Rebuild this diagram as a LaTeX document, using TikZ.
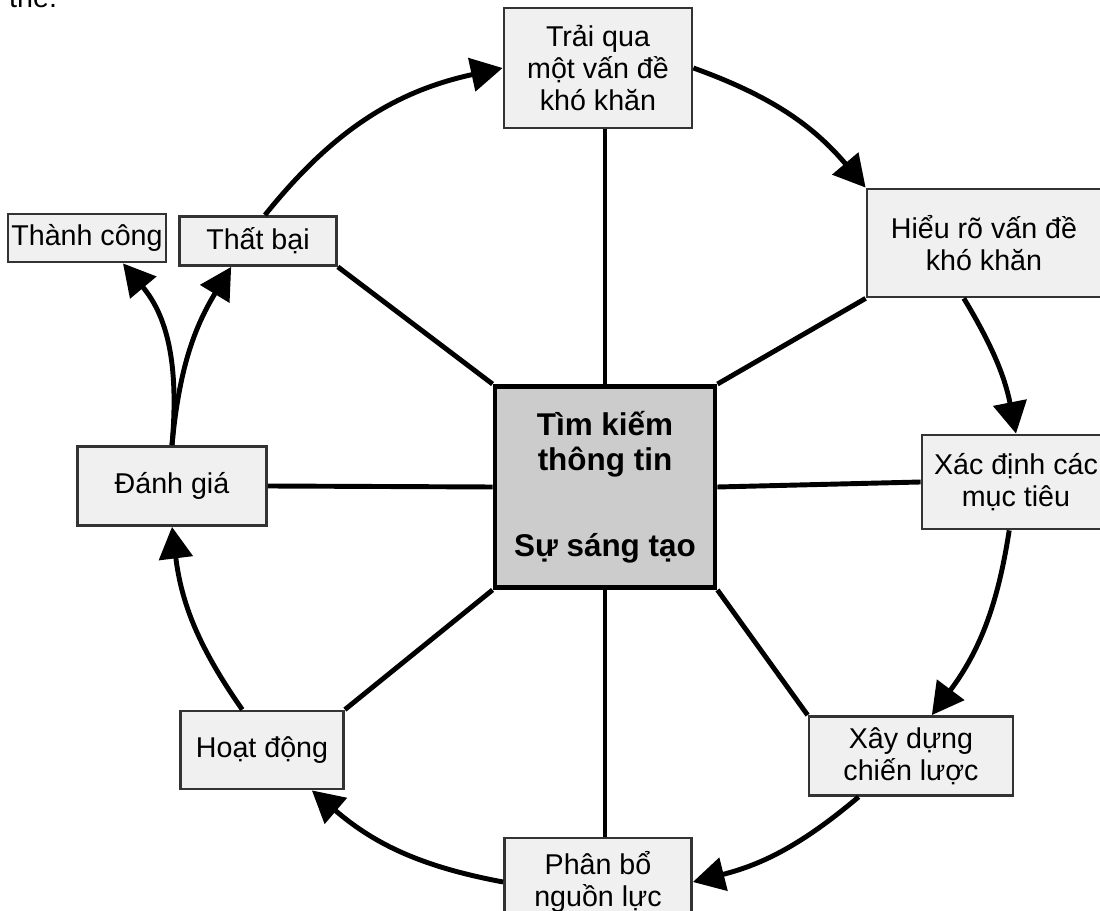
\documentclass[tikz,border=0pt]{standalone}
\usepackage{fontspec}
\setmainfont{Liberation Sans}
\usetikzlibrary{arrows.meta}

\begin{document}
\begin{tikzpicture}[
  x=0.02cm, y=-0.02cm,
  stage/.style={draw=black!80, fill=black!6, line width=1.6pt,
                align=center, inner sep=0pt,
                font=\fontsize{16.3}{18.4}\selectfont},
  core/.style={draw, fill=black!20, line width=2.8pt,
               align=center, inner sep=0pt,
               font=\fontsize{17.9}{19.8}\selectfont\bfseries},
  spoke/.style={-, line width=2.8pt},
  flow/.style={-{Triangle[length=18pt, width=19pt]}, line width=2.8pt},
]
\useasboundingbox (0,0) rectangle (1100,911);

\node[anchor=base west, font=\fontsize{16.3}{18.4}\selectfont] (prev) at (3,8) {the.};

\node[core, minimum width=4.40cm, minimum height=4.02cm] (core) at (605,487) {
  Tìm kiếm\\thông tin\\[29pt]Sự sáng tạo
};
\node[stage, minimum width=3.76cm, minimum height=2.40cm] (trai) at (598,68)
  {Trải qua\\một vấn đề\\khó khăn};
\node[stage, minimum width=4.68cm, minimum height=2.16cm] (hieu) at (984,243)
  {Hiểu rõ vấn đề\\khó khăn};
\node[stage, minimum width=3.76cm, minimum height=1.88cm] (xac) at (1016,482)
  {Xác định các\\mục tiêu};
\node[stage, minimum width=4.08cm, minimum height=1.58cm] (xay) at (911,756)
  {Xây dựng\\chiến lược};
\node[stage, minimum width=3.74cm, minimum height=1.76cm] (phan) at (598,882)
  {Phân bổ\\nguồn lực};
\node[stage, minimum width=3.26cm, minimum height=1.56cm] (hoat) at (262,750)
  {Hoạt động};
\node[stage, minimum width=3.78cm, minimum height=1.58cm] (danh) at (172,486)
  {Đánh giá};
\node[stage, minimum width=3.14cm, minimum height=0.98cm] (that) at (258,241)
  {Thất bại};
\node[stage, minimum width=3.16cm, minimum height=0.96cm] (thanh) at (87,238)
  {Thành công};

%% spokes
\draw[spoke] (core.north)      -- (core.north |- trai.south);
\draw[spoke] (core.north east) -- (hieu.south west);
\draw[spoke] (core.east)       -- (xac.west);
\draw[spoke] (core.south east) -- (xay.north west);
\draw[spoke] (core.south)      -- (core.south |- phan.north);
\draw[spoke] (core.south west) -- (hoat.north east);
\draw[spoke] (core.west)       -- (danh.east);
\draw[spoke] (core.north west) -- (that.south east);

%% cycle
\draw[flow] (that.75)  to[bend left=19.5] (trai.west);
\draw[flow] (trai.east) to[bend left=15]  (hieu.north west);
\draw[flow] (hieu.250)  to[bend left=10]  (xac.north);
\draw[flow] (xac.262)   to[bend left=14]  (xay.63);
\draw[flow] (xay.218)   to[bend left=13]  (phan.east);
\draw[flow] (phan.west) to[bend left=15]  (hoat.321);
\draw[flow] (hoat.116)  to[bend left=14]  (danh.south);
\draw[flow] (danh.north) to[bend left=13] (that.224);
\draw[flow] (danh.north) to[out=85, in=-50] ([xshift=0.72cm]thanh.south);
\end{tikzpicture}
\end{document}
